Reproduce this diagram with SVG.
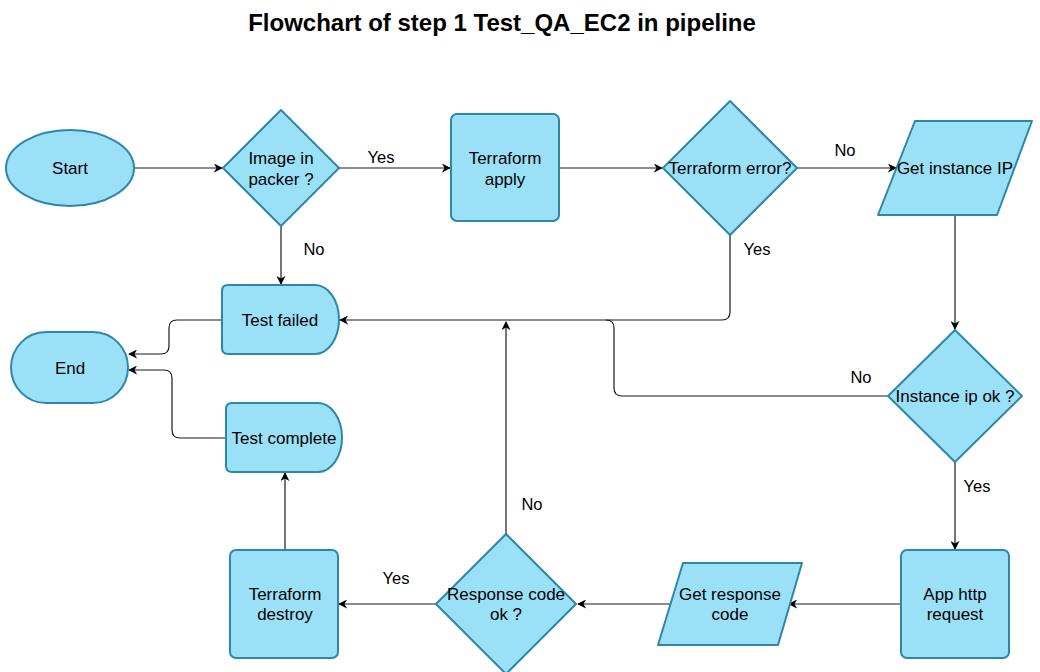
<svg xmlns="http://www.w3.org/2000/svg" width="1040" height="672" viewBox="0 0 1040 672">
<style>
.n{fill:#9ae1f8;stroke:#2e86a8;stroke-width:2;stroke-linejoin:round}
.t{font-family:"Liberation Sans",Arial,sans-serif;font-size:17px;fill:#000;text-anchor:middle;dominant-baseline:central}
.l{font-family:"Liberation Sans",Arial,sans-serif;font-size:16.5px;fill:#000;text-anchor:middle;dominant-baseline:central}
.c{fill:none;stroke:#1a1a1a;stroke-width:1.2;marker-end:url(#a)}
.m{fill:none;stroke:#1a1a1a;stroke-width:1.2}
.ttl{font-family:"Liberation Sans",Arial,sans-serif;font-size:24px;font-weight:bold;fill:#000;text-anchor:middle}
</style>
<defs>
<marker id="a" viewBox="0 0 10 10" refX="9" refY="5" markerWidth="9" markerHeight="9" markerUnits="userSpaceOnUse" orient="auto">
<path d="M0,0 L10,5 L0,10 L3,5 Z" fill="#000"/>
</marker>
</defs>
<rect width="1040" height="672" fill="#fff"/>
<text class="ttl" x="502" y="31">Flowchart of step 1 Test_QA_EC2 in pipeline</text>

<g id="connectors">
<path class="c" d="M133,168 H222"/>
<path class="c" d="M339,168 H450"/>
<path class="c" d="M559,168 H662"/>
<path class="c" d="M797,168 H896"/>
<path class="c" d="M281,226 V284"/>
<path class="c" d="M730,235 V312 Q730,320 722,320 H340"/>
<path class="m" d="M888,396 H622 Q614,396 614,388 V328 Q614,320 606,320"/>
<path class="c" d="M955,215 V329"/>
<path class="c" d="M955,462 V549"/>
<path class="c" d="M901,604 H789"/>
<path class="c" d="M670,604 H578"/>
<path class="c" d="M436,604 H339"/>
<path class="c" d="M506,534 V322"/>
<path class="c" d="M285,550 V473"/>
<path class="c" d="M222,320 H177 Q169,320 169,328 V346 Q169,354 161,354 H129"/>
<path class="c" d="M226,438 H180 Q172,438 172,430 V378 Q172,370 164,370 H129"/>
</g>

<g id="labels">
<text class="l" x="381" y="157">Yes</text>
<text class="l" x="845" y="150">No</text>
<text class="l" x="314" y="249">No</text>
<text class="l" x="757" y="249">Yes</text>
<text class="l" x="861" y="377">No</text>
<text class="l" x="977" y="486">Yes</text>
<text class="l" x="532" y="504">No</text>
<text class="l" x="396" y="578">Yes</text>
</g>

<g id="start">
<ellipse class="n" cx="70" cy="168" rx="64" ry="38"/>
<text class="t" x="70" y="168">Start</text>
</g>
<g id="image-in-packer">
<polygon class="n" points="281,110 339,168 281,226 223,168"/>
<text class="t" x="281" y="158">Image in</text>
<text class="t" x="281" y="179">packer ?</text>
</g>
<g id="terraform-apply">
<rect class="n" x="451" y="114" width="108" height="107" rx="6"/>
<text class="t" x="505" y="158">Terraform</text>
<text class="t" x="505" y="179">apply</text>
</g>
<g id="terraform-error">
<polygon class="n" points="730,101 797,168 730,235 663,168"/>
<text class="t" x="730" y="168">Terraform error?</text>
</g>
<g id="get-instance-ip">
<polygon class="n" points="915,121 1032,121 997,215 878,215"/>
<text class="t" x="955" y="168">Get instance IP</text>
</g>
<g id="instance-ip-ok">
<polygon class="n" points="955,330 1022,396 955,462 888,396"/>
<text class="t" x="955" y="396">Instance ip ok ?</text>
</g>
<g id="test-failed">
<path class="n" d="M228,285 H315 A24,34.5 0 0 1 315,354 H228 Q222,354 222,348 V291 Q222,285 228,285 Z"/>
<text class="t" x="280" y="320">Test failed</text>
</g>
<g id="end">
<rect class="n" x="11" y="332" width="117" height="71" rx="35" ry="35.5"/>
<text class="t" x="70" y="368">End</text>
</g>
<g id="test-complete">
<path class="n" d="M232,403 H318 A24,34.5 0 0 1 318,472 H232 Q226,472 226,466 V409 Q226,403 232,403 Z"/>
<text class="t" x="284" y="438">Test complete</text>
</g>
<g id="terraform-destroy">
<rect class="n" x="230" y="550" width="108" height="108" rx="6"/>
<text class="t" x="285" y="594">Terraform</text>
<text class="t" x="285" y="614">destroy</text>
</g>
<g id="response-code-ok">
<polygon class="n" points="506,534 576,604 506,674 436,604"/>
<text class="t" x="506" y="594">Response code</text>
<text class="t" x="506" y="614">ok ?</text>
</g>
<g id="get-response-code">
<polygon class="n" points="683,563 802,563 778,645 658,645"/>
<text class="t" x="730" y="594">Get response</text>
<text class="t" x="730" y="614">code</text>
</g>
<g id="app-http-request">
<rect class="n" x="901" y="550" width="108" height="108" rx="6"/>
<text class="t" x="955" y="594">App http</text>
<text class="t" x="955" y="614">request</text>
</g>
</svg>
